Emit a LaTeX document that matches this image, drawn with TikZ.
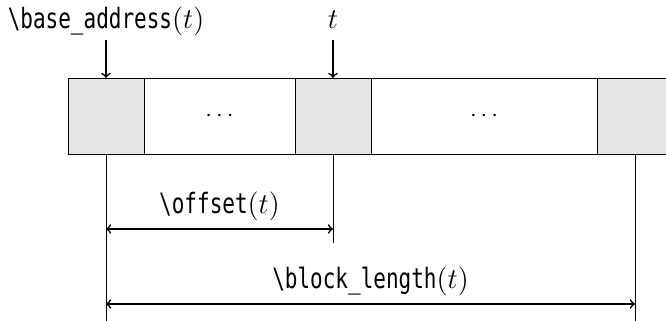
\documentclass[tikz,border=0pt]{standalone}
\usepackage{fontspec}
\setmonofont[FakeStretch=0.75]{DejaVu Sans Mono}
\usetikzlibrary{positioning}
\newcommand{\mono}[1]{\texttt{\textbackslash #1}}

\begin{document}
\begin{tikzpicture}[x=0.5pt,y=0.5pt,
	every node/.style={font=\fontsize{14}{16}\selectfont},
	slot/.style={draw,fill=gray!20,minimum width=38pt,minimum height=38pt,inner sep=0pt,outer sep=0pt},
	gap/.style={draw,minimum height=38pt,inner sep=0pt,outer sep=0pt,font=\fontsize{11.5}{13}\selectfont},
	lbl/.style={inner sep=2pt,text height=10pt,text depth=3.5pt},
	guide/.style={line width=0.45pt},
	dim/.style={<->,thick}]
	\useasboundingbox (0,0) rectangle (666,321);
	\node [slot] (a) at (106,205) {};
	\node [gap,minimum width=75.5pt,right=0pt of a] (g1) {$\cdots$};
	\node [slot,right=0pt of g1] (b) {};
	\node [gap,minimum width=113pt,right=0pt of b] (g2) {$\cdots$};
	\node [slot,right=0pt of g2] (c) {};
	\node [lbl,above=19pt of a] (base) {\mono{base\_address}$(t)$};
	\node [lbl,above=19pt of b] (tlab) {$t$};
	\draw [->,thick] (base) -- (a);
	\draw [->,thick] (tlab) -- (b);
	\coordinate (aBot) at (a |- 0,0);
	\coordinate (bBot) at (b |- 0,78);
	\coordinate (cBot) at (c |- 0,0);
	\draw [guide] (a.south) -- (aBot);
	\draw [guide] (b.south) -- (bBot);
	\draw [guide] (c.south) -- (cBot);
	\coordinate (offL) at (a |- 0,92);
	\coordinate (offR) at (b |- 0,92);
	\coordinate (lenL) at (a |- 0,17);
	\coordinate (lenR) at (c |- 0,17);
	\draw [dim] (offL) -- node [lbl,above=2pt] (off) {\mono{offset}$(t)$} (offR);
	\draw [dim] (lenL) -- node [lbl,above=2pt] (len) {\mono{block\_length}$(t)$} (lenR);
\end{tikzpicture}
\end{document}
